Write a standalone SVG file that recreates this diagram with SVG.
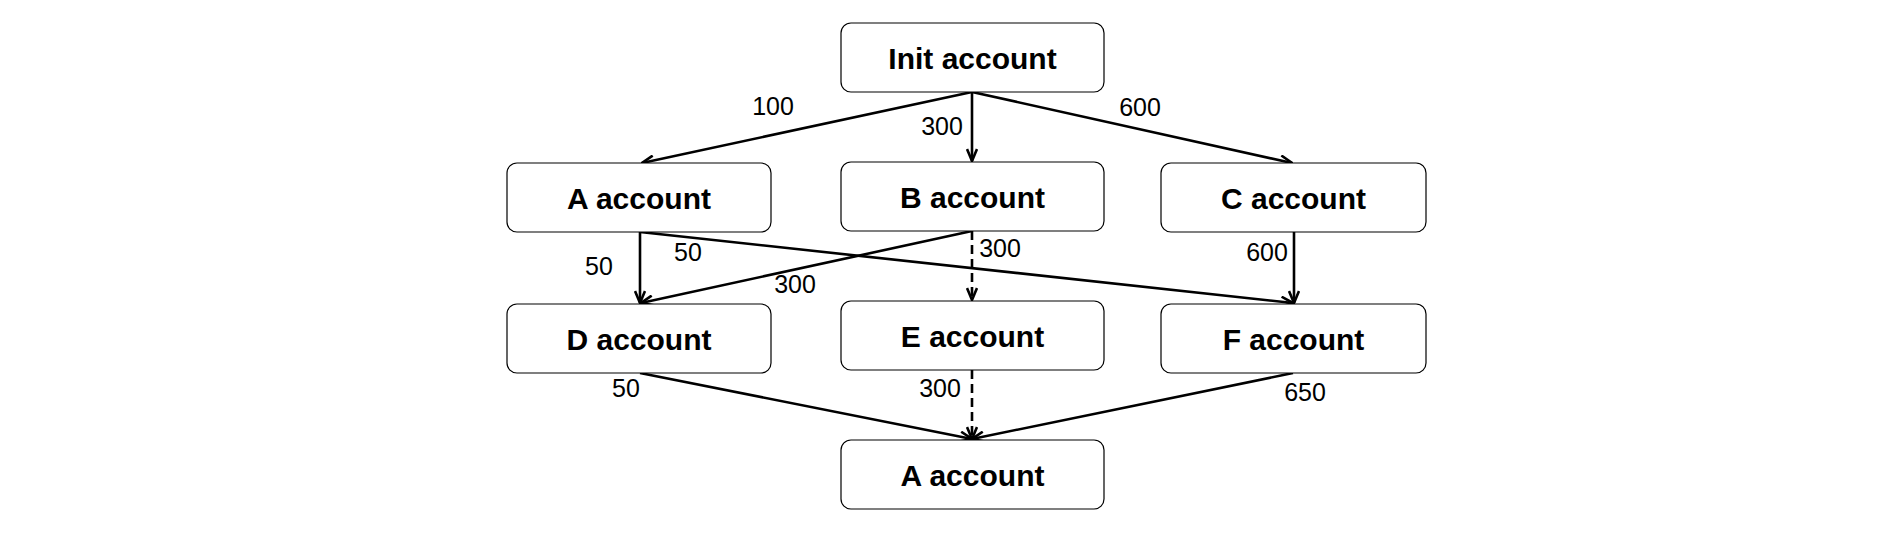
<svg xmlns="http://www.w3.org/2000/svg" width="1879" height="538" viewBox="0 0 1879 538">
<defs>
<style>
.box{fill:#fff;stroke:#000;stroke-width:1.2}
.t{font-family:"Liberation Sans",Arial,sans-serif;font-size:30px;font-weight:bold;text-anchor:middle;fill:#000}
.l{font-family:"Liberation Sans",Arial,sans-serif;font-size:25px;text-anchor:middle;fill:#000}
.e{stroke:#000;stroke-width:2.6;fill:none;marker-end:url(#ah)}
.d{stroke-dasharray:9 5}
</style>
<marker id="ah" viewBox="0 0 14 12" refX="13" refY="6" markerWidth="14" markerHeight="12" markerUnits="userSpaceOnUse" orient="auto">
<path d="M1,1 L13,6 L1,11" fill="none" stroke="#000" stroke-width="2.6"/>
</marker>
</defs>
<rect width="1879" height="538" fill="#fff"/>
<g id="connectors">
<line class="e" x1="972" y1="92" x2="642" y2="163"/>
<line class="e" x1="972" y1="92" x2="972" y2="161"/>
<line class="e" x1="972" y1="92" x2="1292" y2="163"/>
<line class="e" x1="640" y1="232" x2="640" y2="303"/>
<line class="e" x1="640" y1="232" x2="1293" y2="303"/>
<line class="e" x1="972" y1="231" x2="641" y2="303"/>
<line class="e d" x1="972" y1="231" x2="972" y2="300"/>
<line class="e" x1="1294" y1="232" x2="1294" y2="303"/>
<line class="e" x1="640" y1="373" x2="972" y2="439"/>
<line class="e d" x1="972" y1="370" x2="972" y2="439"/>
<line class="e" x1="1293" y1="373" x2="972" y2="439"/>
<text class="l" x="773" y="115">100</text>
<text class="l" x="942" y="135">300</text>
<text class="l" x="1140" y="116">600</text>
<text class="l" x="599" y="275">50</text>
<text class="l" x="688" y="261">50</text>
<text class="l" x="795" y="293">300</text>
<text class="l" x="1000" y="257">300</text>
<text class="l" x="1267" y="261">600</text>
<text class="l" x="626" y="397">50</text>
<text class="l" x="940" y="397">300</text>
<text class="l" x="1305" y="401">650</text>
</g>
<g id="init"><rect class="box" x="841" y="23" width="263" height="69" rx="10"/><text class="t" x="972.5" y="69">Init account</text></g>
<g id="a1"><rect class="box" x="507" y="163" width="264" height="69" rx="10"/><text class="t" x="639" y="209">A account</text></g>
<g id="b"><rect class="box" x="841" y="162" width="263" height="69" rx="10"/><text class="t" x="972.5" y="208">B account</text></g>
<g id="c"><rect class="box" x="1161" y="163" width="265" height="69" rx="10"/><text class="t" x="1293.5" y="209">C account</text></g>
<g id="d"><rect class="box" x="507" y="304" width="264" height="69" rx="10"/><text class="t" x="639" y="350">D account</text></g>
<g id="e"><rect class="box" x="841" y="301" width="263" height="69" rx="10"/><text class="t" x="972.5" y="347">E account</text></g>
<g id="f"><rect class="box" x="1161" y="304" width="265" height="69" rx="10"/><text class="t" x="1293.5" y="350">F account</text></g>
<g id="a2"><rect class="box" x="841" y="440" width="263" height="69" rx="10"/><text class="t" x="972.5" y="486">A account</text></g>
</svg>
